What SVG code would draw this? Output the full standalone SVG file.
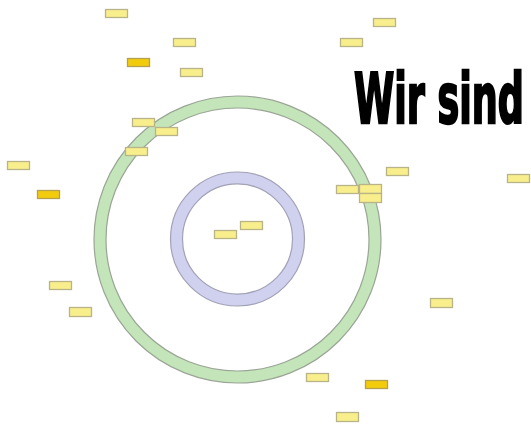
<svg xmlns="http://www.w3.org/2000/svg" width="531" height="427" viewBox="0 0 531 427">
<style>
.ringG{fill:#c4e5b9;stroke:#9aa596;stroke-width:1.2;fill-rule:evenodd}
.ringP{fill:#d0d0ef;stroke:#a2a2b6;stroke-width:1.2;fill-rule:evenodd}
.n{fill:#f8ef8c;stroke:#b9b388;stroke-width:1.3}
.d{fill:#f2cc0c;stroke:#b5a050;stroke-width:1.3}
.t{font-family:"DejaVu Sans Condensed","DejaVu Sans",sans-serif;font-weight:bold;font-size:38px;fill:#000;stroke:#000;stroke-width:1.3}
</style>
<rect width="531" height="427" fill="#fff"/>
<g id="rings">
<path id="outer-ring" class="ringG" d="M94,239.5a143.5,143.5 0 1,0 287,0a143.5,143.5 0 1,0 -287,0ZM106,239.5a131.5,131.5 0 1,0 263,0a131.5,131.5 0 1,0 -263,0Z"/>
<path id="inner-ring" class="ringP" d="M170.5,239a67,67 0 1,0 134,0a67,67 0 1,0 -134,0ZM182.5,239a55,55 0 1,0 110,0a55,55 0 1,0 -110,0Z"/>
</g>
<g id="connectors"></g>
<g id="n1"><rect class="n" x="105.5" y="9.5" width="22" height="8"/></g>
<g id="n2"><rect class="n" x="173.5" y="38.5" width="22" height="8"/></g>
<g id="n3"><rect class="d" x="127.5" y="58.5" width="22" height="8"/></g>
<g id="n4"><rect class="n" x="180.5" y="68.5" width="22" height="8"/></g>
<g id="n5"><rect class="n" x="132.5" y="118.5" width="22" height="8"/></g>
<g id="n6"><rect class="n" x="155.5" y="127.5" width="22" height="8"/></g>
<g id="n7"><rect class="n" x="125.5" y="147.5" width="22" height="8"/></g>
<g id="n8"><rect class="n" x="7.5" y="161.5" width="22" height="8"/></g>
<g id="n9"><rect class="d" x="37.5" y="190.5" width="22" height="8"/></g>
<g id="n10"><rect class="n" x="373.5" y="18.5" width="22" height="8"/></g>
<g id="n11"><rect class="n" x="340.5" y="38.5" width="22" height="8"/></g>
<g id="n12"><rect class="n" x="386.5" y="167.5" width="22" height="8"/></g>
<g id="n13"><rect class="n" x="507.5" y="174.5" width="22" height="8"/></g>
<g id="n14"><rect class="n" x="336.5" y="185.5" width="22" height="8"/></g>
<g id="n15"><rect class="n" x="359.5" y="184.5" width="22" height="9"/></g>
<g id="n16"><rect class="n" x="359.5" y="193.5" width="22" height="9"/></g>
<g id="n17"><rect class="n" x="214.5" y="230.5" width="22" height="8"/></g>
<g id="n18"><rect class="n" x="240.5" y="221.5" width="22" height="8"/></g>
<g id="n19"><rect class="n" x="49.5" y="281.5" width="22" height="8"/></g>
<g id="n20"><rect class="n" x="69.5" y="307.5" width="22" height="9"/></g>
<g id="n21"><rect class="n" x="430.5" y="298.5" width="22" height="9"/></g>
<g id="n22"><rect class="n" x="306.5" y="373.5" width="22" height="8"/></g>
<g id="n23"><rect class="d" x="365.5" y="380.5" width="22" height="8"/></g>
<g id="n24"><rect class="n" x="336.5" y="412.5" width="22" height="9"/></g>
<g id="title"><text class="t" transform="scale(1,1.84)" x="354" y="66.8" textLength="170" lengthAdjust="spacingAndGlyphs">Wir sind</text></g>
</svg>
